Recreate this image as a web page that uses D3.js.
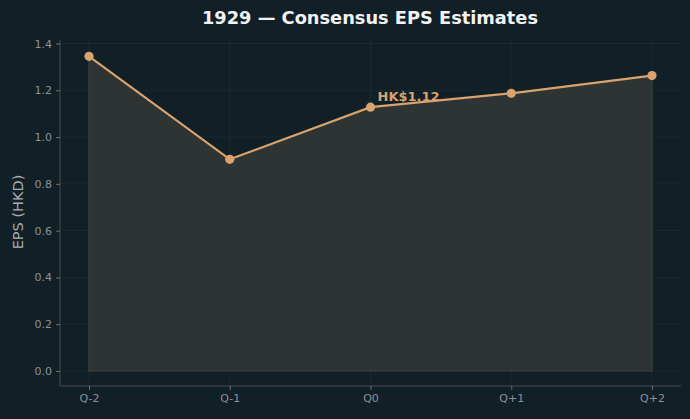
<!DOCTYPE html>
<html>
<head>
<meta charset="utf-8">
<title>1929 EPS</title>
<script src="https://d3js.org/d3.v7.min.js"></script>
<style>
  html, body { margin: 0; padding: 0; background: #111f26; }
  svg { display: block; font-family: "DejaVu Sans", sans-serif; }
</style>
</head>
<body>
<script>
// chart data
const quarters = ["Q-2", "Q-1", "Q0", "Q+1", "Q+2"];
const eps = [1.345, 0.905, 1.128, 1.187, 1.263];
const yTicks = [0, 0.2, 0.4, 0.6, 0.8, 1.0, 1.2, 1.4];
const highlightIndex = 2;
const highlightLabel = "HK$1.12";

const W = 690, H = 419;
const lineColor = "#d8a36e";
const textColor = "#8c9296";

const svg = d3.select("body").append("svg")
  .attr("width", W).attr("height", H);

svg.append("rect").attr("width", W).attr("height", H).attr("fill", "#111f26");

const x = d3.scalePoint().domain(quarters).range([89, 652]);
const y = d3.scaleLinear().domain([0, 1.4]).range([371, 43.5]);

// grid
const grid = svg.append("g").attr("stroke", "#1a2a30").attr("stroke-width", 1);
grid.selectAll(".gx").data(quarters).enter().append("line")
  .attr("x1", d => x(d)).attr("x2", d => x(d))
  .attr("y1", 40).attr("y2", 386);
grid.selectAll(".gy").data(yTicks).enter().append("line")
  .attr("x1", 60).attr("x2", 681)
  .attr("y1", d => y(d)).attr("y2", d => y(d));

// area
const pts = quarters.map((q, i) => [q, eps[i]]);
const area = d3.area()
  .x(d => x(d[0])).y0(y(0)).y1(d => y(d[1]));
svg.append("path").datum(pts)
  .attr("d", area)
  .attr("fill", "#2e3333")
  .attr("stroke", "#3d4039")
  .attr("stroke-width", 1.2);

// line
const line = d3.line().x(d => x(d[0])).y(d => y(d[1]));
svg.append("path").datum(pts)
  .attr("d", line)
  .attr("fill", "none")
  .attr("stroke", lineColor)
  .attr("stroke-width", 2.2);

svg.selectAll(".dot").data(pts).enter().append("circle")
  .attr("cx", d => x(d[0])).attr("cy", d => y(d[1]))
  .attr("r", 4.6).attr("fill", lineColor);

// annotation
const hp = pts[highlightIndex];
svg.append("text")
  .attr("x", x(hp[0]) + 7).attr("y", y(hp[1]) - 6)
  .attr("fill", lineColor)
  .attr("font-size", 13).attr("font-weight", "bold")
  .text(highlightLabel);

// axes
const xAxis = d3.axisBottom(x).tickSize(4).tickPadding(4);
const gx = svg.append("g").attr("transform", "translate(0,386)").call(xAxis);
gx.select(".domain").attr("d", "M60,0H681").attr("stroke", "#4a4d4d");

const yAxis = d3.axisLeft(y).tickValues(yTicks).tickFormat(d3.format(".1f")).tickSize(4).tickPadding(4);
const gy = svg.append("g").attr("transform", "translate(60,0)").call(yAxis);
gy.select(".domain").attr("d", "M0,40V386").attr("stroke", "#4a4d4d");

[gx, gy].forEach(g => {
  g.selectAll(".tick line").attr("stroke", "#6d7070");
  g.selectAll(".tick text").attr("fill", textColor).attr("font-size", 11)
    .attr("font-family", "DejaVu Sans, sans-serif");
});

// labels
svg.append("text")
  .attr("transform", "translate(23,212) rotate(-90)")
  .attr("text-anchor", "middle")
  .attr("fill", "#a8aeb1")
  .attr("font-size", 14.5)
  .text("EPS (HKD)");

svg.append("text")
  .attr("x", 370).attr("y", 24)
  .attr("text-anchor", "middle")
  .attr("fill", "#f2f2f2")
  .attr("font-size", 17.8).attr("font-weight", "bold")
  .text("1929 — Consensus EPS Estimates");
</script>
</body>
</html>
